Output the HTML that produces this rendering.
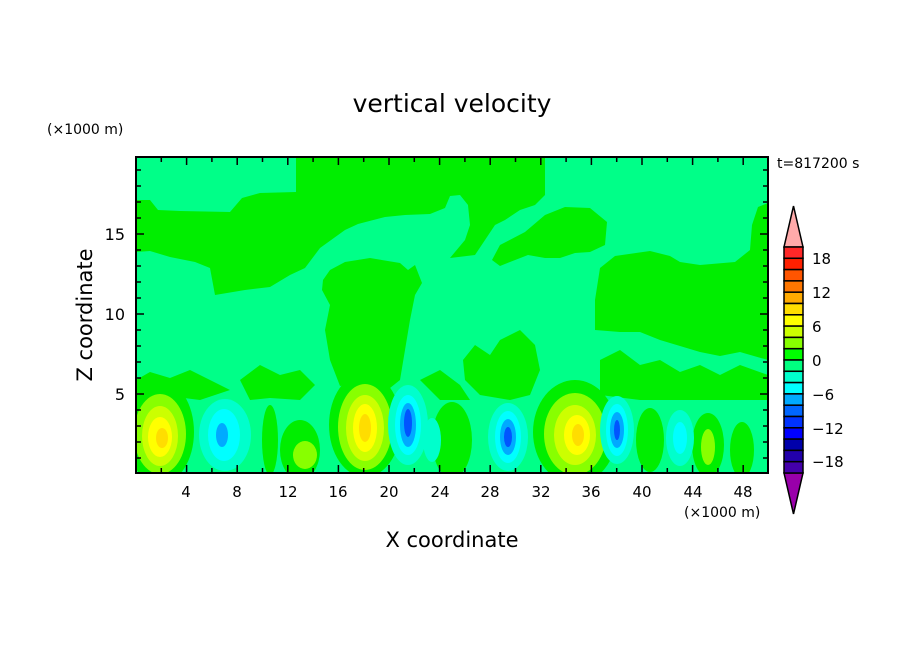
<!DOCTYPE html>
<html><head><meta charset="utf-8"><style>
body{margin:0;background:#fff;}
svg{display:block;font-family:"DejaVu Sans","Liberation Sans",sans-serif;}
</style></head><body>
<svg width="904" height="654" viewBox="0 0 904 654" xmlns="http://www.w3.org/2000/svg">
<defs><clipPath id="c"><rect x="136" y="157" width="632" height="316"/></clipPath></defs>
<text x="452" y="112" font-size="25" text-anchor="middle">vertical velocity</text>
<text x="47" y="134" font-size="14">(×1000 m)</text>
<text x="777" y="168" font-size="14">t=817200 s</text>
<text x="684" y="517" font-size="14">(×1000 m)</text>
<text x="452" y="547" font-size="21" text-anchor="middle">X coordinate</text>
<text transform="translate(92,315) rotate(-90)" font-size="21" text-anchor="middle">Z coordinate</text>
<g clip-path="url(#c)">
<rect x="136" y="157" width="632" height="316" fill="#00ff88"/>
<g fill="#00ee00">
<polygon points="136,200 150,200 158,210 180,211 230,212 242,198 260,193 296,192 296,157 545,157 545,195 535,205 520,210 505,220 495,225 485,240 475,255 450,258 465,240 470,225 468,205 460,195 450,196 445,208 430,214 405,215 385,217 358,224 345,230 320,248 305,268 290,275 270,287 245,290 215,295 210,268 195,262 170,257 150,251 136,252"/>
<polygon points="492,260 500,245 525,232 545,215 565,207 590,208 607,222 605,245 590,252 575,253 560,258 545,258 528,255 510,262 500,266"/>
<polygon points="768,203 758,207 752,225 750,250 735,262 700,265 680,262 670,256 650,251 615,256 600,268 595,300 595,330 620,332 640,332 660,340 680,346 700,352 720,356 740,352 768,360"/>
<polygon points="323,280 330,270 345,262 370,258 400,263 408,270 415,265 422,283 415,295 410,320 405,350 400,380 385,392 360,382 340,386 330,360 325,330 330,305 322,290"/>
<polygon points="463,360 475,345 490,355 500,340 520,330 535,345 540,370 530,395 510,400 480,395 465,380"/>
<polygon points="136,380 150,372 170,378 190,370 210,380 230,390 200,400 160,395 136,400"/>
<polygon points="240,380 260,365 280,375 300,370 315,385 300,400 270,398 250,400"/>
<polygon points="600,360 620,350 640,365 660,360 680,372 700,365 720,375 740,365 768,375 768,400 700,400 640,400 600,395"/>
<polygon points="420,380 440,370 460,385 470,400 440,400"/>
<ellipse cx="160" cy="432" rx="34" ry="52"/>
<ellipse cx="270" cy="440" rx="8" ry="35"/>
<ellipse cx="300" cy="450" rx="20" ry="30"/>
<ellipse cx="365" cy="425" rx="36" ry="52"/>
<ellipse cx="452" cy="440" rx="20" ry="38"/>
<ellipse cx="575" cy="432" rx="42" ry="52"/>
<ellipse cx="650" cy="440" rx="14" ry="32"/>
<ellipse cx="708" cy="445" rx="16" ry="32"/>
<ellipse cx="742" cy="450" rx="12" ry="28"/>
</g>
<g fill="#88ff00">
<ellipse cx="160" cy="434" rx="26" ry="40"/><ellipse cx="305" cy="455" rx="12" ry="14"/>
<ellipse cx="365" cy="427" rx="27" ry="43"/><ellipse cx="575" cy="434" rx="31" ry="41"/>
<ellipse cx="708" cy="447" rx="7" ry="18"/>
</g>
<g fill="#ccff00"><ellipse cx="160" cy="436" rx="18" ry="30"/><ellipse cx="365" cy="428" rx="19" ry="33"/><ellipse cx="575" cy="435" rx="21" ry="30"/></g>
<g fill="#ffff00"><ellipse cx="160" cy="437" rx="12" ry="20"/><ellipse cx="365" cy="428" rx="12" ry="24"/><ellipse cx="577" cy="435" rx="13" ry="20"/></g>
<g fill="#ffdd00"><ellipse cx="162" cy="438" rx="6" ry="10"/><ellipse cx="365" cy="428" rx="6" ry="14"/><ellipse cx="578" cy="435" rx="6" ry="11"/></g>
<g fill="#00ffcc"><ellipse cx="225" cy="435" rx="26" ry="36"/><ellipse cx="408" cy="425" rx="20" ry="40"/><ellipse cx="508" cy="437" rx="20" ry="34"/><ellipse cx="617" cy="430" rx="17" ry="34"/><ellipse cx="680" cy="438" rx="14" ry="28"/><ellipse cx="432" cy="440" rx="9" ry="22"/></g>
<g fill="#00ffff"><ellipse cx="224" cy="435" rx="16" ry="26"/><ellipse cx="408" cy="425" rx="13" ry="30"/><ellipse cx="508" cy="437" rx="13" ry="26"/><ellipse cx="617" cy="430" rx="11" ry="26"/><ellipse cx="680" cy="438" rx="7" ry="16"/></g>
<g fill="#00aaff"><ellipse cx="222" cy="435" rx="6" ry="12"/><ellipse cx="408" cy="425" rx="8" ry="22"/><ellipse cx="508" cy="437" rx="8" ry="18"/><ellipse cx="617" cy="430" rx="7" ry="18"/></g>
<g fill="#0055ff"><ellipse cx="408" cy="423" rx="4" ry="14"/><ellipse cx="508" cy="437" rx="4" ry="10"/><ellipse cx="617" cy="430" rx="3" ry="10"/></g>
</g>
<rect x="136" y="157" width="632" height="316" fill="none" stroke="#000" stroke-width="2"/>
<g stroke="#000" stroke-width="1.5">
<!-- x ticks -->
<path d="M161.3,473v-5M186.6,473v-8M211.9,473v-5M237.2,473v-8M262.5,473v-5M287.8,473v-8M313.1,473v-5M338.4,473v-8M363.7,473v-5M389,473v-8M414.3,473v-5M439.6,473v-8M464.9,473v-5M490.2,473v-8M515.5,473v-5M540.8,473v-8M566.1,473v-5M591.4,473v-8M616.7,473v-5M642,473v-8M667.3,473v-5M692.6,473v-8M717.9,473v-5M743.2,473v-8"/>
<path d="M161.3,157v5M186.6,157v8M211.9,157v5M237.2,157v8M262.5,157v5M287.8,157v8M313.1,157v5M338.4,157v8M363.7,157v5M389,157v8M414.3,157v5M439.6,157v8M464.9,157v5M490.2,157v8M515.5,157v5M540.8,157v8M566.1,157v5M591.4,157v8M616.7,157v5M642,157v8M667.3,157v5M692.6,157v8M717.9,157v5M743.2,157v8"/>
<path d="M136,458h5M136,442h5M136,426h5M136,410h5M136,394h8M136,378h5M136,362h5M136,346h5M136,330h5M136,314h8M136,298h5M136,282h5M136,266h5M136,250h5M136,234h8M136,218h5M136,202h5M136,186h5M136,170h5"/>
<path d="M768,458h-5M768,442h-5M768,426h-5M768,410h-5M768,394h-8M768,378h-5M768,362h-5M768,346h-5M768,330h-5M768,314h-8M768,298h-5M768,282h-5M768,266h-5M768,250h-5M768,234h-8M768,218h-5M768,202h-5M768,186h-5M768,170h-5"/>
</g>
<g font-size="15" text-anchor="middle">
<text x="186" y="497">4</text><text x="237" y="497">8</text><text x="288" y="497">12</text><text x="338" y="497">16</text><text x="389" y="497">20</text><text x="440" y="497">24</text><text x="490" y="497">28</text><text x="541" y="497">32</text><text x="591" y="497">36</text><text x="642" y="497">40</text><text x="693" y="497">44</text><text x="743" y="497">48</text>
</g>
<g font-size="16" text-anchor="end">
<text x="125" y="400">5</text><text x="125" y="320">10</text><text x="125" y="240">15</text>
</g>
<!-- colorbar -->
<g stroke="#000" stroke-width="1.5">
<polygon points="793.5,206 784,247 803,247" fill="#ffaaaa"/>
<polygon points="793.5,514 784,473 803,473" fill="#9900aa"/>
<rect x="784" y="247" width="19" height="11.3" fill="#ff2828"/>
<rect x="784" y="258.3" width="19" height="11.3" fill="#ff2000"/>
<rect x="784" y="269.6" width="19" height="11.3" fill="#ff5500"/>
<rect x="784" y="280.9" width="19" height="11.3" fill="#ff7700"/>
<rect x="784" y="292.2" width="19" height="11.3" fill="#ffaa00"/>
<rect x="784" y="303.5" width="19" height="11.3" fill="#ffdd00"/>
<rect x="784" y="314.8" width="19" height="11.3" fill="#ffff00"/>
<rect x="784" y="326.1" width="19" height="11.3" fill="#ccff00"/>
<rect x="784" y="337.4" width="19" height="11.3" fill="#88ff00"/>
<rect x="784" y="348.7" width="19" height="11.3" fill="#00ff00"/>
<rect x="784" y="360" width="19" height="11.3" fill="#00ff80"/>
<rect x="784" y="371.3" width="19" height="11.3" fill="#00ffcc"/>
<rect x="784" y="382.6" width="19" height="11.3" fill="#00ffff"/>
<rect x="784" y="393.9" width="19" height="11.3" fill="#00aaff"/>
<rect x="784" y="405.2" width="19" height="11.3" fill="#0066ff"/>
<rect x="784" y="416.5" width="19" height="11.3" fill="#0033ff"/>
<rect x="784" y="427.8" width="19" height="11.3" fill="#0000ff"/>
<rect x="784" y="439.1" width="19" height="11.3" fill="#0000aa"/>
<rect x="784" y="450.4" width="19" height="11.3" fill="#2200aa"/>
<rect x="784" y="461.7" width="19" height="11.3" fill="#4400aa"/>
</g>
<g font-size="15">
<text x="812" y="264">18</text><text x="812" y="298">12</text><text x="812" y="332">6</text><text x="812" y="366">0</text><text x="812" y="400">−6</text><text x="812" y="434">−12</text><text x="812" y="467">−18</text>
</g>
</svg>
</body></html>
